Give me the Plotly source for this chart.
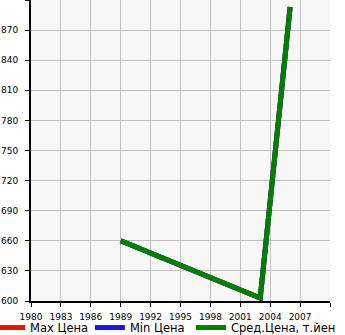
import plotly.graph_objects as go

years = [1989, 2003, 2006]
avg_price = [660, 603, 893]
max_price = [660, 603, 893]
min_price = [660, 603, 893]

x_ticks = list(range(1980, 2011, 3))
x_labels = [str(v) if v < 2010 else "" for v in x_ticks]
y_ticks = list(range(600, 901, 30))
y_labels = [str(v) if v < 900 else "" for v in y_ticks]

fig = go.Figure()
fig.add_trace(go.Scatter(x=years, y=max_price, mode="lines", name="Max Цена",
                         line=dict(color="rgb(220,25,25)", width=5), legend="legend"))
fig.add_trace(go.Scatter(x=years, y=min_price, mode="lines", name="Min Цена",
                         line=dict(color="rgb(25,25,220)", width=5), legend="legend2"))
fig.add_trace(go.Scatter(x=years, y=avg_price, mode="lines", name="Сред.Цена, т.йен",
                         line=dict(color="rgb(0,128,0)", width=5), legend="legend3"))

leg_common = dict(orientation="h", xanchor="left", y=-0.040, yanchor="top",
                  font=dict(family="DejaVu Sans", size=11.5),
                  bgcolor="rgba(0,0,0,0)")

fig.update_layout(
    width=345, height=335,
    margin=dict(l=31, r=15, t=0, b=34, autoexpand=False),
    paper_bgcolor="white", plot_bgcolor="#f7f7f7",
    font=dict(family="DejaVu Sans", size=9, color="black"),
    showlegend=True,
    legend=dict(x=-0.137, **leg_common),
    legend2=dict(x=0.197, **leg_common),
    legend3=dict(x=0.535, **leg_common),
)
fig.update_xaxes(range=[1980, 2010], tickvals=x_ticks, ticktext=x_labels,
                 showgrid=True, gridcolor="#c0c0c0", gridwidth=1,
                 showline=True, linecolor="black", linewidth=2,
                 ticks="outside", ticklen=4, tickcolor="black", ticklabelstandoff=2,
                 tickfont=dict(family="DejaVu Sans", size=9), zeroline=False)
fig.update_yaxes(range=[600, 900], tickvals=y_ticks, ticktext=y_labels,
                 showgrid=True, gridcolor="#c0c0c0", gridwidth=1,
                 showline=True, linecolor="black", linewidth=2,
                 ticks="outside", ticklen=4, tickcolor="black", ticklabelstandoff=5,
                 tickfont=dict(family="DejaVu Sans", size=9), zeroline=False)

fig.write_html("out.html")
